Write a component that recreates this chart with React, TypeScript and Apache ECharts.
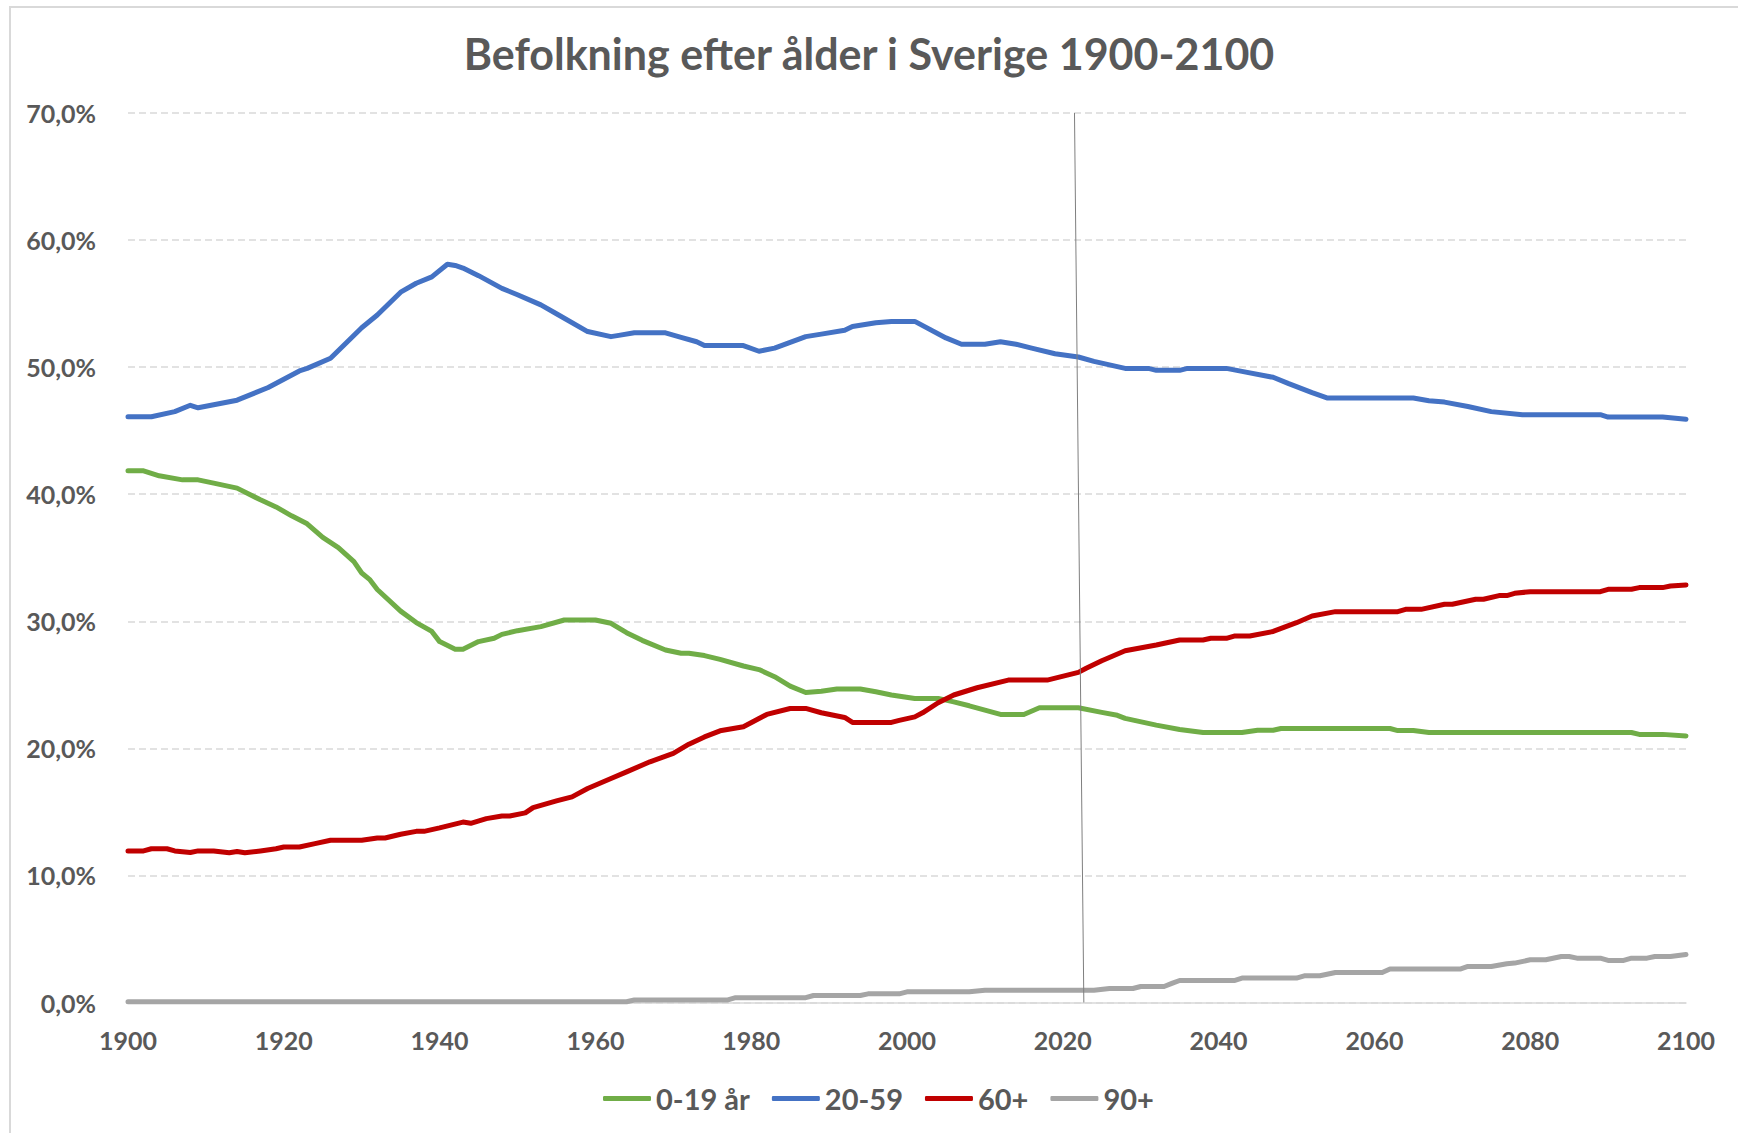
import React, { useEffect, useRef } from "react";
import * as echarts from "echarts";

const TITLE = "Befolkning efter ålder i Sverige 1900-2100";
const SERIES_NAMES = ["0-19 år", "20-59", "60+", "90+"];
const COLORS = ["#70ad47", "#4472c4", "#c00000", "#a5a5a5"];

// [year, percent]
const youngPts: [number, number][] = [
  [1900, 41.84], [1902, 41.84], [1904, 41.45], [1907, 41.13], [1909, 41.13], [1911, 40.87],
  [1914, 40.48], [1917, 39.56], [1919, 39.0], [1921, 38.3], [1923, 37.67], [1925, 36.6],
  [1927, 35.8], [1929, 34.7], [1930, 33.8], [1931, 33.3], [1932, 32.5], [1935, 30.8],
  [1937, 29.9], [1939, 29.2], [1940, 28.4], [1942, 27.8], [1943, 27.8], [1945, 28.4],
  [1947, 28.66], [1948, 28.97], [1950, 29.26], [1953, 29.58], [1956, 30.1], [1960, 30.1],
  [1962, 29.84], [1964, 29.1], [1966, 28.5], [1969, 27.74], [1971, 27.48], [1972, 27.48],
  [1974, 27.3], [1976, 27.0], [1979, 26.48], [1981, 26.2], [1983, 25.64], [1985, 24.9],
  [1987, 24.4], [1989, 24.5], [1991, 24.67], [1994, 24.67], [1996, 24.45], [1998, 24.2],
  [2001, 23.93], [2004, 23.93], [2006, 23.66], [2008, 23.35], [2012, 22.67], [2015, 22.67],
  [2017, 23.19], [2022, 23.19], [2025, 22.83], [2027, 22.6], [2028, 22.36], [2032, 21.83],
  [2035, 21.49], [2038, 21.25], [2043, 21.25], [2045, 21.43], [2047, 21.43], [2048, 21.56],
  [2062, 21.56], [2063, 21.4], [2065, 21.4], [2067, 21.25], [2093, 21.25], [2094, 21.1],
  [2097, 21.1], [2100, 20.98],
];

const workPts: [number, number][] = [
  [1900, 46.1], [1903, 46.1], [1906, 46.5], [1908, 47.0], [1909, 46.8], [1914, 47.4],
  [1918, 48.4], [1922, 49.7], [1923, 49.9], [1926, 50.7], [1928, 51.9], [1930, 53.1],
  [1932, 54.1], [1935, 55.9], [1937, 56.6], [1939, 57.1], [1941, 58.1], [1942, 58.0],
  [1943, 57.8], [1945, 57.2], [1948, 56.2], [1950, 55.7], [1953, 54.9], [1955, 54.2],
  [1959, 52.8], [1962, 52.4], [1963, 52.5], [1965, 52.7], [1969, 52.7], [1971, 52.35],
  [1973, 52.0], [1974, 51.7], [1979, 51.7], [1981, 51.25], [1983, 51.5], [1987, 52.4],
  [1989, 52.6], [1992, 52.9], [1993, 53.2], [1996, 53.5], [1998, 53.6], [2001, 53.6],
  [2005, 52.3], [2007, 51.8], [2010, 51.8], [2012, 52.0], [2014, 51.8], [2016, 51.5],
  [2019, 51.05], [2022, 50.8], [2024, 50.45], [2028, 49.9], [2031, 49.9], [2032, 49.75],
  [2035, 49.75], [2036, 49.9], [2041, 49.9], [2043, 49.67], [2047, 49.2], [2049, 48.7],
  [2052, 48.0], [2054, 47.57], [2065, 47.57], [2067, 47.36], [2069, 47.25], [2072, 46.9],
  [2075, 46.5], [2079, 46.26], [2089, 46.26], [2090, 46.07], [2097, 46.07], [2100, 45.9],
];

const oldPts: [number, number][] = [
  [1900, 11.93], [1902, 11.93], [1903, 12.1], [1905, 12.1], [1906, 11.93], [1908, 11.8],
  [1909, 11.93], [1911, 11.93], [1913, 11.78], [1914, 11.88], [1915, 11.78], [1917, 11.93],
  [1919, 12.1], [1920, 12.24], [1922, 12.24], [1924, 12.5], [1926, 12.77], [1930, 12.77],
  [1932, 12.95], [1933, 12.95], [1935, 13.24], [1937, 13.47], [1938, 13.47], [1940, 13.74],
  [1943, 14.2], [1944, 14.1], [1946, 14.47], [1948, 14.68], [1949, 14.68], [1951, 14.92],
  [1952, 15.34], [1953, 15.52], [1955, 15.86], [1957, 16.18], [1959, 16.84], [1962, 17.63],
  [1964, 18.15], [1967, 18.94], [1970, 19.6], [1972, 20.33], [1974, 20.9], [1976, 21.38],
  [1979, 21.7], [1982, 22.67], [1985, 23.14], [1987, 23.14], [1989, 22.8], [1992, 22.43],
  [1993, 22.04], [1998, 22.04], [1999, 22.2], [2001, 22.48], [2002, 22.8], [2004, 23.59],
  [2006, 24.2], [2009, 24.77], [2013, 25.37], [2018, 25.37], [2022, 25.98], [2023, 26.3],
  [2025, 26.9], [2028, 27.68], [2032, 28.13], [2035, 28.53], [2038, 28.53], [2039, 28.66],
  [2041, 28.66], [2042, 28.84], [2044, 28.84], [2047, 29.2], [2050, 29.89], [2052, 30.42],
  [2055, 30.76], [2063, 30.76], [2064, 30.94], [2066, 30.94], [2069, 31.34], [2070, 31.34],
  [2073, 31.73], [2074, 31.73], [2076, 32.02], [2077, 32.02], [2078, 32.2], [2080, 32.33],
  [2089, 32.33], [2090, 32.52], [2093, 32.52], [2094, 32.65], [2097, 32.65], [2098, 32.78],
  [2100, 32.86],
];

const oldestPts: [number, number][] = [
  [1900, 0.06], [1964, 0.06], [1965, 0.2], [1977, 0.2], [1978, 0.38], [1987, 0.38],
  [1988, 0.55], [1994, 0.55], [1995, 0.68], [1999, 0.68], [2000, 0.84], [2008, 0.84],
  [2010, 0.97], [2024, 0.97], [2026, 1.1], [2029, 1.1], [2030, 1.26], [2033, 1.26],
  [2034, 1.5], [2035, 1.73], [2042, 1.73], [2043, 1.92], [2050, 1.92], [2051, 2.1],
  [2053, 2.1], [2055, 2.36], [2061, 2.36], [2062, 2.63], [2071, 2.63], [2072, 2.84],
  [2075, 2.84], [2077, 3.05], [2078, 3.1], [2080, 3.36], [2082, 3.36], [2084, 3.62],
  [2085, 3.62], [2086, 3.49], [2089, 3.49], [2090, 3.31], [2092, 3.31], [2093, 3.49],
  [2095, 3.49], [2096, 3.62], [2098, 3.62], [2100, 3.78],
];

// vertical marker ("today") line endpoints [year, percent]
const markerTop: [number, number] = [2021.5, 70];
const markerBottom: [number, number] = [2022.7, 0];

const X_MIN = 1900;
const X_MAX = 2100;
const X_STEP = 20;
const Y_MIN = 0;
const Y_MAX = 70;
const Y_STEP = 10;

const TEXT = "#595959";
const FONT = "Lato";

export default function App() {
  const ref = useRef<HTMLDivElement>(null);
  useEffect(() => {
    if (!ref.current) return;
    const chart = echarts.init(ref.current, undefined, { renderer: "svg" });
    const allPts = [youngPts, workPts, oldPts, oldestPts];
    chart.setOption({
      animation: false,
      backgroundColor: "#ffffff",
      title: {
        text: TITLE,
        left: "center",
        top: 27,
        textStyle: { fontFamily: FONT, fontWeight: "bold", fontSize: 43, color: TEXT },
      },
      graphic: [
        {
          type: "rect",
          shape: { x: 10, y: 7, width: 2000, height: 2000 },
          style: { fill: "none", stroke: "#d9d9d9", lineWidth: 2 },
          silent: true,
        },
      ],
      legend: {
        left: 598,
        top: 1079,
        icon: "roundRect",
        itemWidth: 48,
        itemHeight: 5,
        itemGap: 22,
        textStyle: { fontFamily: FONT, fontWeight: "bold", fontSize: 29, color: TEXT },
        data: SERIES_NAMES,
      },
      grid: { left: 128, right: 52, top: 113, bottom: 130.5 },
      xAxis: {
        type: "value",
        min: X_MIN,
        max: X_MAX,
        interval: X_STEP,
        axisLine: { show: true, lineStyle: { color: "#d9d9d9", width: 1.5 } },
        axisTick: { show: false },
        splitLine: { show: false },
        axisLabel: {
          margin: 25,
          fontFamily: FONT,
          fontWeight: "bold",
          fontSize: 25,
          color: TEXT,
          formatter: (v: number) => String(v),
        },
      },
      yAxis: {
        type: "value",
        min: Y_MIN,
        max: Y_MAX,
        interval: Y_STEP,
        axisLine: { show: false },
        axisTick: { show: false },
        splitLine: { show: true, lineStyle: { color: "#d9d9d9", width: 1.5, type: [7, 4] } },
        axisLabel: {
          margin: 32,
          fontFamily: FONT,
          fontWeight: "bold",
          fontSize: 25,
          color: TEXT,
          formatter: (v: number) => v.toFixed(1).replace(".", ",") + "%",
        },
      },
      series: SERIES_NAMES.map((name, i) => ({
        name,
        type: "line",
        data: allPts[i],
        showSymbol: false,
        symbol: "none",
        smooth: false,
        z: i === 3 ? 1 : 2,
        lineStyle: { color: COLORS[i], width: 5, cap: "round", join: "round" },
        itemStyle: { color: COLORS[i] },
        markLine:
          i === 1
            ? {
                silent: true,
                symbol: ["none", "none"],
                label: { show: false },
                lineStyle: { color: "#7f7f7f", width: 1, type: "solid" },
                data: [[{ coord: markerTop }, { coord: markerBottom }]],
              }
            : undefined,
      })),
    });
    return () => chart.dispose();
  }, []);
  return (
    <div
      ref={ref}
      style={{ position: "fixed", left: 0, top: 0, width: 1738, height: 1133 }}
    />
  );
}
